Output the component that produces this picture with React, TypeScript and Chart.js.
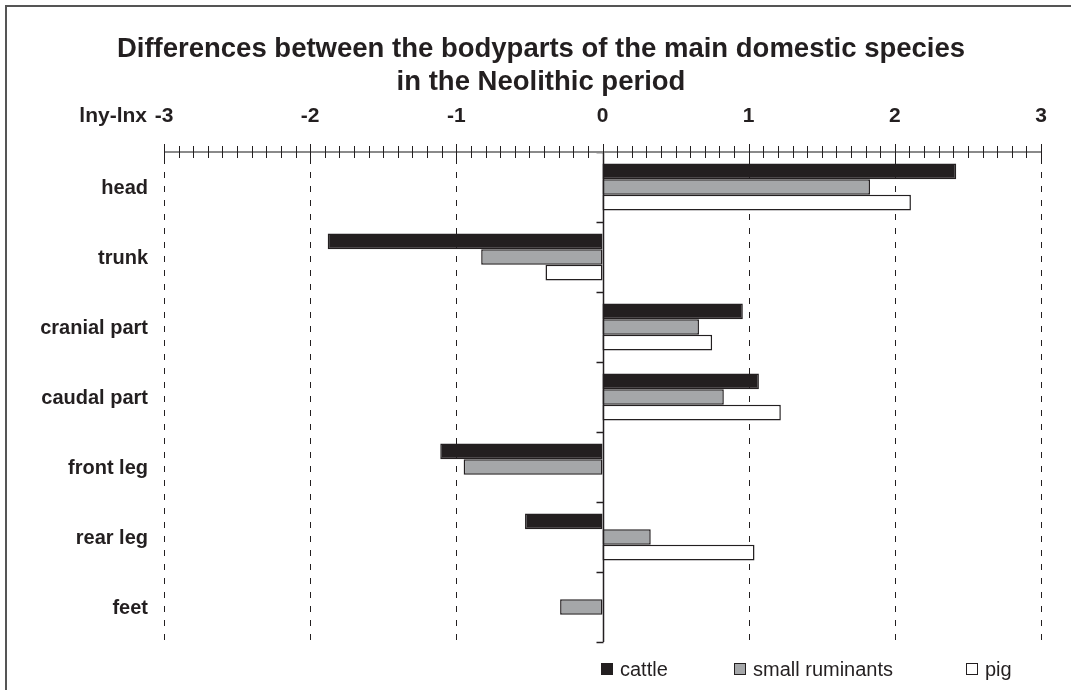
import React, { useEffect, useRef } from 'react';
import { Chart, registerables } from 'chart.js';

Chart.register(...registerables);

// ---- data ----
const categories = ['head', 'trunk', 'cranial part', 'caudal part', 'front leg', 'rear leg', 'feet'];
const cattle = [2.42, -1.88, 0.96, 1.07, -1.11, -0.53, null];
const smallRuminants = [1.83, -0.83, 0.66, 0.83, -0.95, 0.33, -0.29];
const pig = [2.11, -0.39, 0.75, 1.22, null, 1.04, null];
const seriesNames = ['cattle', 'small ruminants', 'pig'];
const seriesColors = ['#231f20', '#a5a7a9', '#ffffff'];
const xTickValues = [-3, -2, -1, 0, 1, 2, 3];
const titleLines = ['Differences between the bodyparts of the main domestic species', 'in the Neolithic period'];
const axisTitle = 'lny-lnx';

const FONT = '"Liberation Sans", Arial, Helvetica, sans-serif';
const INK = '#231f20';

export default function App() {
  const ref = useRef<HTMLCanvasElement>(null);

  useEffect(() => {
    const canvas = ref.current;
    if (!canvas) return;

    const decor = {
      id: 'decor',
      beforeDatasetsDraw(chart: any) {
        const { ctx, chartArea } = chart;
        const xs = chart.scales.x;
        ctx.save();
        ctx.strokeStyle = INK;
        ctx.lineWidth = 1;
        ctx.setLineDash([6, 8]);
        for (const v of xTickValues) {
          if (v === 0) continue;
          const x = Math.round(xs.getPixelForValue(v)) + 0.5;
          ctx.beginPath();
          ctx.moveTo(x, chartArea.top + 6);
          ctx.lineTo(x, chartArea.bottom);
          ctx.stroke();
        }
        ctx.restore();
      },
      afterDatasetsDraw(chart: any) {
        const { ctx, chartArea } = chart;
        const xs = chart.scales.x;
        const ys = chart.scales.y;
        ctx.save();

        // zero axis
        const x0 = Math.round(xs.getPixelForValue(0)) + 0.5;
        ctx.strokeStyle = INK;
        ctx.lineWidth = 1.5;
        ctx.beginPath();
        ctx.moveTo(x0, chartArea.top);
        ctx.lineTo(x0, chartArea.bottom);
        ctx.stroke();

        // category boundary ticks
        ctx.lineWidth = 1.5;
        for (let i = 0; i <= categories.length; i++) {
          const y = Math.round(ys.getPixelForValue(i - 0.5)) + 0.5;
          ctx.beginPath();
          ctx.moveTo(x0 - 7, y);
          ctx.lineTo(x0, y);
          ctx.stroke();
        }

        // top axis line
        const top = chartArea.top;
        ctx.strokeStyle = '#8a8a8a';
        ctx.lineWidth = 2;
        ctx.beginPath();
        ctx.moveTo(xs.getPixelForValue(-3), top);
        ctx.lineTo(xs.getPixelForValue(3), top);
        ctx.stroke();

        // minor / major ticks
        ctx.strokeStyle = INK;
        ctx.lineWidth = 1;
        for (let k = -30; k <= 30; k++) {
          const x = Math.round(xs.getPixelForValue(k / 10)) + 0.5;
          const len = k % 10 === 0 ? 8 : 6;
          ctx.beginPath();
          ctx.moveTo(x, top - len);
          ctx.lineTo(x, top + len);
          ctx.stroke();
        }

        // tick labels
        ctx.fillStyle = INK;
        ctx.font = `bold 21px ${FONT}`;
        ctx.textAlign = 'center';
        ctx.textBaseline = 'middle';
        for (const v of xTickValues) {
          ctx.fillText(String(v), xs.getPixelForValue(v), 116);
        }
        ctx.textAlign = 'right';
        ctx.fillText(axisTitle, 147, 116);

        // category labels
        ctx.font = `bold 20px ${FONT}`;
        ctx.textAlign = 'right';
        categories.forEach((c, i) => {
          ctx.fillText(c, 148, ys.getPixelForValue(i) + 1);
        });

        // title
        ctx.font = `bold 27.5px ${FONT}`;
        ctx.textAlign = 'center';
        ctx.fillText(titleLines[0], 541, 49);
        ctx.fillText(titleLines[1], 541, 82);

        // legend
        const legendX = [601, 734, 966];
        const legendY = 669;
        ctx.font = `20px ${FONT}`;
        ctx.textAlign = 'left';
        seriesNames.forEach((name, i) => {
          ctx.fillStyle = seriesColors[i];
          ctx.fillRect(legendX[i], legendY - 6, 12, 12);
          ctx.strokeStyle = INK;
          ctx.lineWidth = 1;
          ctx.strokeRect(legendX[i] + 0.5, legendY - 5.5, 11, 11);
          ctx.fillStyle = INK;
          ctx.fillText(name, legendX[i] + 19, legendY + 1);
        });

        // outer frame
        ctx.strokeStyle = '#555555';
        ctx.lineWidth = 2;
        ctx.beginPath();
        ctx.moveTo(6, 700);
        ctx.lineTo(6, 6);
        ctx.lineTo(1080, 6);
        ctx.stroke();

        ctx.restore();
      },
    };

    const chart = new Chart(canvas, {
      type: 'bar',
      data: {
        labels: categories,
        datasets: [
          { label: seriesNames[0], data: cattle, backgroundColor: seriesColors[0] },
          { label: seriesNames[1], data: smallRuminants, backgroundColor: seriesColors[1] },
          { label: seriesNames[2], data: pig, backgroundColor: seriesColors[2] },
        ].map((d) => ({
          ...d,
          borderColor: INK,
          borderWidth: 1.5,
          borderSkipped: false,
          categoryPercentage: 0.67,
          barPercentage: 1,
        })),
      },
      options: {
        indexAxis: 'y',
        responsive: false,
        animation: false,
        devicePixelRatio: 1,
        layout: { padding: { left: 164, top: 152, right: 30, bottom: 48 } },
        scales: {
          x: { type: 'linear', min: -3, max: 3, display: false },
          y: { type: 'category', display: false },
        },
        plugins: {
          legend: { display: false },
          title: { display: false },
          tooltip: { enabled: false },
        },
      },
      plugins: [decor],
    } as any);

    return () => chart.destroy();
  }, []);

  return (
    <div style={{ position: 'absolute', left: 0, top: 0, width: 1071, height: 690, background: '#ffffff' }}>
      <canvas ref={ref} width={1071} height={690} style={{ display: 'block' }} />
    </div>
  );
}
